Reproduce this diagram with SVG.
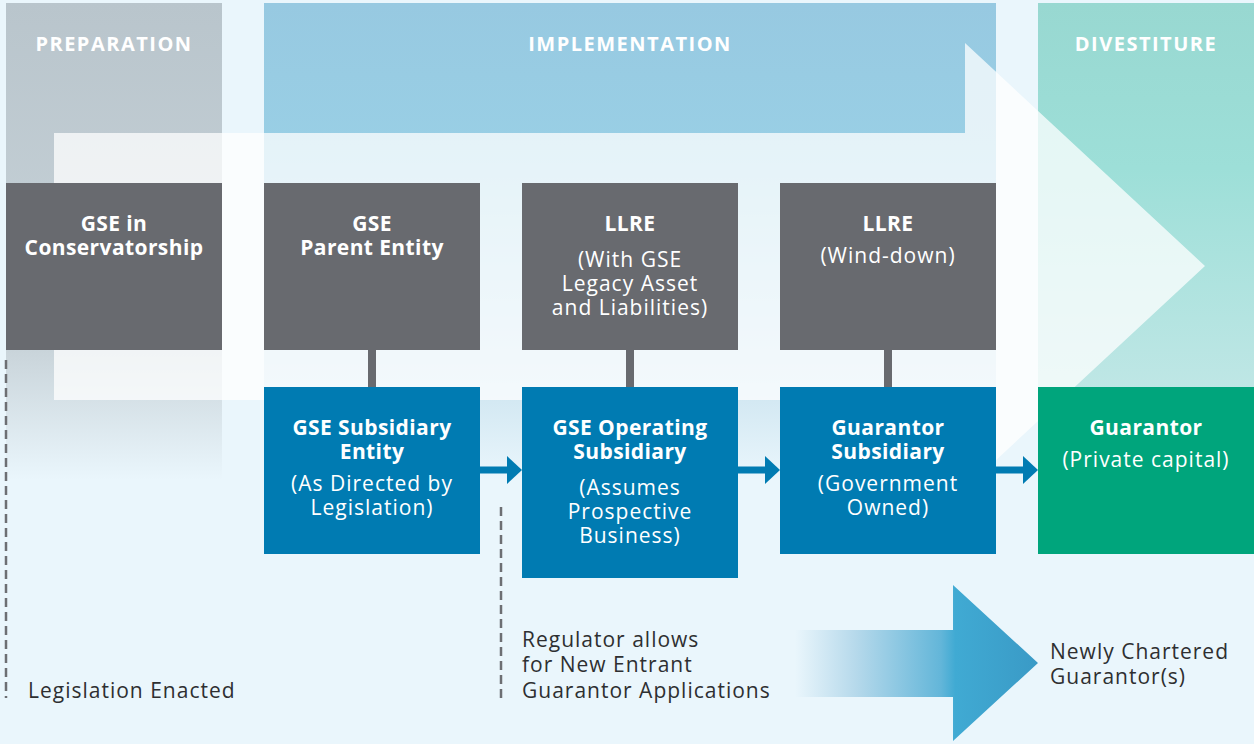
<svg xmlns="http://www.w3.org/2000/svg" width="1254" height="744" viewBox="0 0 1254 744">
<style>
.hdr{font-family:"Open Sans","Liberation Sans",sans-serif;font-weight:700;font-size:20px;fill:#fff;letter-spacing:1.5px;text-anchor:middle}
.b{font-family:"Open Sans","Liberation Sans",sans-serif;font-weight:700;font-size:21px;fill:#fff;letter-spacing:0.4px;text-anchor:middle}
.r{font-family:"Open Sans","Liberation Sans",sans-serif;font-weight:400;font-size:21px;fill:#fff;letter-spacing:1px;text-anchor:middle}
.d{font-family:"Open Sans","Liberation Sans",sans-serif;font-weight:400;font-size:21px;fill:#2e2f31;letter-spacing:1px}
.gray{fill:#686a6f}
.blue{fill:#007bb2}
.green{fill:#00a57c}
.stub{stroke:#686a6f;stroke-width:8}
.flow{stroke:#007bb2;stroke-width:7}
.dash{stroke:#6d6f73;stroke-width:2.5;stroke-dasharray:9 5;fill:none}
</style>
<defs>
<linearGradient id="gPrep" x1="0" y1="3" x2="0" y2="480" gradientUnits="userSpaceOnUse">
<stop offset="0" stop-color="#b9c5cc"/><stop offset="0.72" stop-color="#c8d3d9"/><stop offset="1" stop-color="#eaf6fc"/>
</linearGradient>
<linearGradient id="gImpl" x1="0" y1="3" x2="0" y2="480" gradientUnits="userSpaceOnUse">
<stop offset="0" stop-color="#97c9e1"/><stop offset="0.3" stop-color="#99cfe5"/><stop offset="0.8" stop-color="#cfe6f1"/><stop offset="1" stop-color="#eaf6fc"/>
</linearGradient>
<linearGradient id="gDiv" x1="0" y1="3" x2="0" y2="554" gradientUnits="userSpaceOnUse">
<stop offset="0" stop-color="#98d8d1"/><stop offset="0.3" stop-color="#9ddfd8"/><stop offset="1" stop-color="#d8ecef"/>
</linearGradient>
<linearGradient id="gArrow" x1="795" y1="0" x2="1038" y2="0" gradientUnits="userSpaceOnUse">
<stop offset="0" stop-color="#eaf6fc"/><stop offset="0.25" stop-color="#b6d9eb"/><stop offset="0.6" stop-color="#63b6d9"/><stop offset="0.66" stop-color="#40aad3"/><stop offset="1" stop-color="#3a9ac6"/>
</linearGradient>
</defs>
<rect width="1254" height="744" fill="#eaf6fc"/>
<g id="bands">
<rect x="6" y="3" width="216" height="477" fill="url(#gPrep)"/>
<rect x="264" y="3" width="732" height="477" fill="url(#gImpl)"/>
<rect x="1038" y="3" width="216" height="551" fill="url(#gDiv)"/>
<text class="hdr" x="114" y="51">PREPARATION</text>
<text class="hdr" x="630" y="51">IMPLEMENTATION</text>
<text class="hdr" x="1146" y="51">DIVESTITURE</text>
</g>
<g id="big-arrow" fill="#fff" fill-opacity="0.74">
<path d="M54,133 H965 V43 L1205,266 L965,489 V400 H54 Z"/>
</g>
<g id="connectors">
<line class="dash" x1="6" y1="360" x2="6" y2="698"/>
<line class="dash" x1="501" y1="507" x2="501" y2="698"/>
<line class="stub" x1="372" y1="350" x2="372" y2="387"/>
<line class="stub" x1="630" y1="350" x2="630" y2="387"/>
<line class="stub" x1="888" y1="350" x2="888" y2="387"/>
<line class="flow" x1="480" y1="470" x2="510" y2="470"/>
<polygon class="blue" points="507,456 522,470 507,484"/>
<line class="flow" x1="738" y1="470" x2="768" y2="470"/>
<polygon class="blue" points="765,456 780,470 765,484"/>
<line class="flow" x1="996" y1="470" x2="1026" y2="470"/>
<polygon class="blue" points="1023,456 1038,470 1023,484"/>
<polygon points="795,630 953,630 953,585 1038,663 953,741 953,697 795,697" fill="url(#gArrow)"/>
</g>
<g id="n-conservatorship">
<rect class="gray" x="6" y="183" width="216" height="167"/>
<text class="b" x="114" y="231">GSE in</text>
<text class="b" x="114" y="255">Conservatorship</text>
</g>
<g id="n-parent">
<rect class="gray" x="264" y="183" width="216" height="167"/>
<text class="b" x="372" y="231">GSE</text>
<text class="b" x="372" y="255">Parent Entity</text>
</g>
<g id="n-llre1">
<rect class="gray" x="522" y="183" width="216" height="167"/>
<text class="b" x="630" y="231">LLRE</text>
<text class="r" x="630" y="267">(With GSE</text>
<text class="r" x="630" y="291">Legacy Asset</text>
<text class="r" x="630" y="315">and Liabilities)</text>
</g>
<g id="n-llre2">
<rect class="gray" x="780" y="183" width="216" height="167"/>
<text class="b" x="888" y="231">LLRE</text>
<text class="r" x="888" y="263">(Wind-down)</text>
</g>
<g id="n-subsidiary">
<rect class="blue" x="264" y="387" width="216" height="167"/>
<text class="b" x="372" y="435">GSE Subsidiary</text>
<text class="b" x="372" y="459">Entity</text>
<text class="r" x="372" y="491">(As Directed by</text>
<text class="r" x="372" y="515">Legislation)</text>
</g>
<g id="n-operating">
<rect class="blue" x="522" y="387" width="216" height="191"/>
<text class="b" x="630" y="435">GSE Operating</text>
<text class="b" x="630" y="459">Subsidiary</text>
<text class="r" x="630" y="495">(Assumes</text>
<text class="r" x="630" y="519">Prospective</text>
<text class="r" x="630" y="543">Business)</text>
</g>
<g id="n-guarantor-sub">
<rect class="blue" x="780" y="387" width="216" height="167"/>
<text class="b" x="888" y="435">Guarantor</text>
<text class="b" x="888" y="459">Subsidiary</text>
<text class="r" x="888" y="491">(Government</text>
<text class="r" x="888" y="515">Owned)</text>
</g>
<g id="n-guarantor">
<rect class="green" x="1038" y="387" width="216" height="167"/>
<text class="b" x="1146" y="435">Guarantor</text>
<text class="r" x="1146" y="467">(Private capital)</text>
</g>
<g id="labels">
<text class="d" x="28" y="698">Legislation Enacted</text>
<text class="d" x="522" y="647">Regulator allows</text>
<text class="d" x="522" y="672">for New Entrant</text>
<text class="d" x="522" y="698">Guarantor Applications</text>
<text class="d" x="1050" y="659">Newly Chartered</text>
<text class="d" x="1050" y="684">Guarantor(s)</text>
</g>
</svg>
